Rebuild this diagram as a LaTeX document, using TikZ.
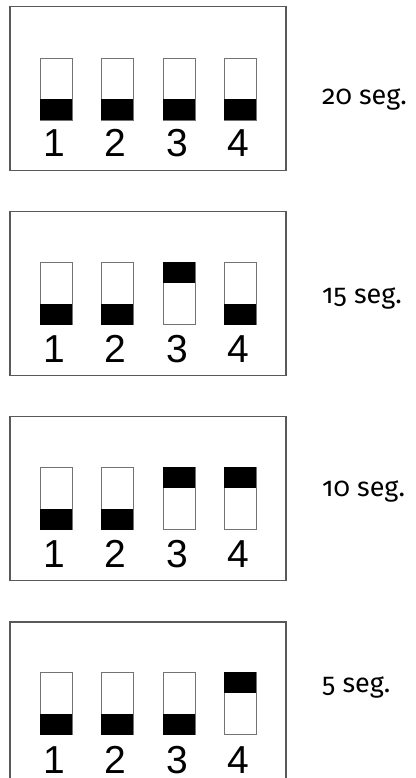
\documentclass[tikz,border=0pt]{standalone}
\usepackage{fontspec}
\setmainfont{Liberation Sans}
\newfontfamily\labelfont[Numbers=OldStyle]{Fira Sans}
\usepackage{tikz}
\usetikzlibrary{positioning}
\tikzstyle{panel} = [rectangle, draw=black!65, line width=1.2pt, minimum width=276pt, minimum height=164pt, inner sep=0pt]
\tikzstyle{slot} = [rectangle, draw=black!55, fill=white, line width=0.9pt, minimum width=32pt, minimum height=62pt, inner sep=0pt]
\tikzstyle{lever} = [rectangle, fill=black, minimum width=32pt, minimum height=21pt, inner sep=0pt]
\tikzstyle{num} = [font=\fontsize{39}{39}\selectfont, inner sep=0pt, anchor=base]
\tikzstyle{timelabel} = [font=\labelfont\fontsize{27}{27}\selectfont, inner sep=0pt, anchor=base west]

\begin{document}
\begin{tikzpicture}[x=1pt, y=-1pt]
    \useasboundingbox (0,0) rectangle (415,778);

    % 20 seg: all levers down
    \node[panel] (p1) at (148,88.5) {};
    \foreach \i/\x/\pos in {1/56/south, 2/117/south, 3/179/south, 4/240/south} {
        \node[slot] (s1\i) at (\x,89) {};
        \node[lever, anchor=\pos] (l1\i) at (s1\i.\pos) {};
        \node[num] (n1\i) at (\x-2,157) {\i};
    }
    \node[timelabel] (t1) at (322,105) {20 seg.};

    % 15 seg: switch 3 up
    \node[panel] (p2) at (148,293.5) {};
    \foreach \i/\x/\pos in {1/56/south, 2/117/south, 3/179/north, 4/240/south} {
        \node[slot] (s2\i) at (\x,293.5) {};
        \node[lever, anchor=\pos] (l2\i) at (s2\i.\pos) {};
        \node[num] (n2\i) at (\x-2,362) {\i};
    }
    \node[timelabel] (t2) at (322,303) {15 seg.};

    % 10 seg: switches 3 and 4 up
    \node[panel] (p3) at (148,498.5) {};
    \foreach \i/\x/\pos in {1/56/south, 2/117/south, 3/179/north, 4/240/north} {
        \node[slot] (s3\i) at (\x,498.5) {};
        \node[lever, anchor=\pos] (l3\i) at (s3\i.\pos) {};
        \node[num] (n3\i) at (\x-2,567) {\i};
    }
    \node[timelabel] (t3) at (322,496) {10 seg.};

    % 5 seg: switch 4 up
    \node[panel] (p4) at (148,704) {};
    \foreach \i/\x/\pos in {1/56/south, 2/117/south, 3/179/south, 4/240/north} {
        \node[slot] (s4\i) at (\x,703.5) {};
        \node[lever, anchor=\pos] (l4\i) at (s4\i.\pos) {};
        \node[num] (n4\i) at (\x-2,773) {\i};
    }
    \node[timelabel] (t4) at (322,692) {5 seg.};
\end{tikzpicture}
\end{document}
